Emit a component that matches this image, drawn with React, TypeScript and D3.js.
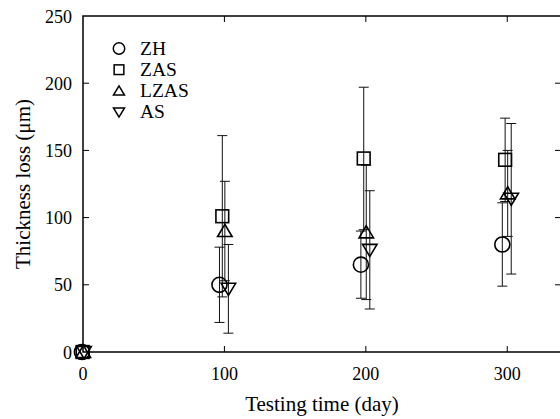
import React, { useEffect, useRef } from "react";
import * as d3 from "d3";

// series: [day, mean, error]
const seriesNames = ["ZH", "ZAS", "LZAS", "AS"];
const symbolKinds = ["circle", "square", "triangle", "down"];
const dayOffsets = [-3.5, -1.5, 0.3, 2.8];

const zhData = [[0, 0, 0], [100, 50, 28], [200, 65, 25], [300, 80, 31]];
const zasData = [[0, 0, 0], [100, 101, 60], [200, 144, 53], [300, 143, 31]];
const lzasData = [[0, 0, 0], [100, 90, 37], [200, 89, 50], [300, 118, 32]];
const asData = [[0, 0, 0], [100, 47, 33], [200, 76, 44], [300, 114, 56]];

const xTicks = [0, 100, 200, 300];
const yTicks = [0, 50, 100, 150, 200, 250];

const font = "'Liberation Serif', 'Times New Roman', serif";

const App = () => {
  const svgRef = useRef<SVGSVGElement>(null);

  useEffect(() => {
    const width = 560;
    const height = 419;
    const margin = { top: 16, right: -1, bottom: 67, left: 83 };

    const svg = d3.select(svgRef.current);
    svg.selectAll("*").remove();

    const x = d3.scaleLinear()
      .domain([0, 338])
      .range([margin.left, width - margin.right]);
    const y = d3.scaleLinear()
      .domain([0, 250])
      .range([height - margin.bottom, margin.top]);

    const allSeries = [zhData, zasData, lzasData, asData];

    // symbol drawer
    const drawSymbol = (g, kind, cx, cy, s) => {
      if (kind === "circle") {
        g.append("circle").attr("cx", cx).attr("cy", cy).attr("r", s * 0.52);
      } else if (kind === "square") {
        const h = s * 0.44;
        g.append("rect").attr("x", cx - h).attr("y", cy - h).attr("width", 2 * h).attr("height", 2 * h);
      } else {
        const w = s * 0.5;
        const hh = s * 0.38;
        const dir = kind === "triangle" ? 1 : -1;
        const pts = [[cx, cy - dir * hh * 1.2], [cx - w, cy + dir * hh], [cx + w, cy + dir * hh]];
        g.append("polygon").attr("points", pts.map(p => p.join(",")).join(" "));
      }
    };

    // Error bars
    const errG = svg.append("g").attr("stroke", "#111").attr("stroke-width", 1).attr("fill", "none");
    allSeries.forEach((series, i) => {
      series.forEach(([day, mean, err]) => {
        if (err === 0) return;
        const cx = x(day + dayOffsets[i]);
        errG.append("line")
          .attr("x1", cx).attr("x2", cx)
          .attr("y1", y(mean - err)).attr("y2", y(mean + err));
        [mean - err, mean + err].forEach(v => {
          errG.append("line")
            .attr("x1", cx - 5).attr("x2", cx + 5)
            .attr("y1", y(v)).attr("y2", y(v));
        });
      });
    });

    // Points
    const ptG = svg.append("g").attr("stroke", "#000").attr("stroke-width", 1.6).attr("fill", "none");
    allSeries.forEach((series, i) => {
      series.forEach(([day, mean]) => {
        const off = day === 0 ? (i - 1.5) * 0.5 : dayOffsets[i];
        drawSymbol(ptG, symbolKinds[i], x(day + off), y(mean), 14.5);
      });
    });

    // Frame
    svg.append("rect")
      .attr("x", margin.left).attr("y", margin.top)
      .attr("width", width - margin.right - margin.left)
      .attr("height", height - margin.bottom - margin.top)
      .attr("fill", "none").attr("stroke", "#000").attr("stroke-width", 1.5);

    // Ticks (inward on all sides)
    const tickG = svg.append("g").attr("stroke", "#000").attr("stroke-width", 1);
    xTicks.forEach(t => {
      if (t === 0) return;
      tickG.append("line").attr("x1", x(t)).attr("x2", x(t))
        .attr("y1", y(0)).attr("y2", y(0) - 6);
      tickG.append("line").attr("x1", x(t)).attr("x2", x(t))
        .attr("y1", y(250)).attr("y2", y(250) + 6);
    });
    yTicks.forEach(t => {
      if (t === 0 || t === 250) return;
      tickG.append("line").attr("x1", x(0)).attr("x2", x(0) + 6)
        .attr("y1", y(t)).attr("y2", y(t));
      tickG.append("line").attr("x1", x(338)).attr("x2", x(338) - 6)
        .attr("y1", y(t)).attr("y2", y(t));
    });

    // Tick labels
    xTicks.forEach(t => {
      svg.append("text")
        .attr("x", x(t)).attr("y", y(0) + 28)
        .attr("text-anchor", "middle")
        .style("font-family", font).style("font-size", "18px")
        .text(t);
    });
    yTicks.forEach(t => {
      svg.append("text")
        .attr("x", x(0) - 11).attr("y", y(t) + 6.5)
        .attr("text-anchor", "end")
        .style("font-family", font).style("font-size", "18px")
        .text(t);
    });

    // Axis titles
    svg.append("text")
      .attr("x", (margin.left + width - margin.right) / 2)
      .attr("y", 411)
      .attr("text-anchor", "middle")
      .style("font-family", font).style("font-size", "21px")
      .text("Testing time (day)");
    svg.append("text")
      .attr("transform", "rotate(-90)")
      .attr("x", -(margin.top + height - margin.bottom) / 2)
      .attr("y", 30)
      .attr("text-anchor", "middle")
      .style("font-family", font).style("font-size", "21px")
      .text("Thickness loss (μm)");

    // Legend
    const legend = svg.append("g");
    seriesNames.forEach((name, i) => {
      const ly = 48.5 + i * 21.2;
      const sg = legend.append("g").attr("stroke", "#000").attr("stroke-width", 1.5).attr("fill", "none");
      drawSymbol(sg, symbolKinds[i], 119, ly, 11);
      legend.append("text")
        .attr("x", 140).attr("y", ly + 6)
        .style("font-family", font).style("font-size", "19.5px")
        .text(name);
    });
  }, []);

  return (
    <svg ref={svgRef} width={560} height={419}
      style={{ position: "absolute", left: 0, top: 0, background: "#fff" }} />
  );
};

export default App;
